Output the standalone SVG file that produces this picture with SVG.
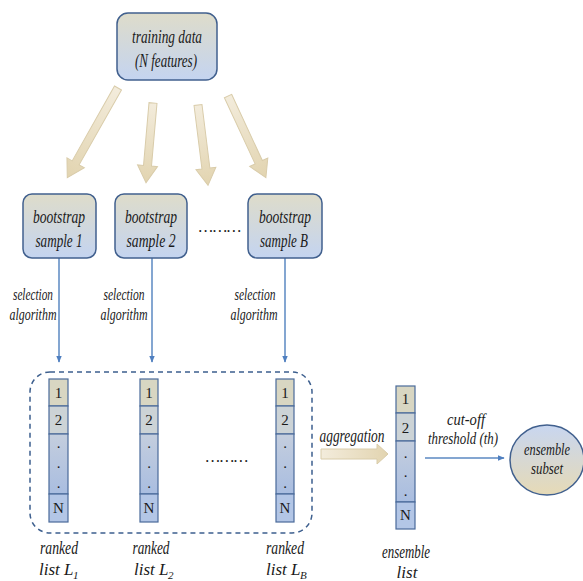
<svg xmlns="http://www.w3.org/2000/svg" width="583" height="581" viewBox="0 0 583 581">
<defs>
<linearGradient id="boxg" x1="0" y1="0" x2="0" y2="1">
<stop offset="0" stop-color="#dedcca"/><stop offset="1" stop-color="#c4d4f0"/>
</linearGradient>
<linearGradient id="ellg" x1="0" y1="0" x2="0" y2="1">
<stop offset="0" stop-color="#c8d6f0"/><stop offset="1" stop-color="#e6dab6"/>
</linearGradient>
<linearGradient id="arrg" x1="0" y1="0" x2="1" y2="0">
<stop offset="0" stop-color="#f3ecdc"/><stop offset="1" stop-color="#e2d4b0"/>
</linearGradient>
<linearGradient id="dotg" x1="0" y1="0" x2="0" y2="1">
<stop offset="0" stop-color="#c4cede"/><stop offset="1" stop-color="#a9bde0"/>
</linearGradient>
<marker id="ah" viewBox="0 0 10 10" refX="9" refY="5" markerWidth="7" markerHeight="7" orient="auto" markerUnits="userSpaceOnUse">
<path d="M0,1 L10,5 L0,9 Z" fill="#4f7fc0"/>
</marker>
<style>
.box{fill:url(#boxg);stroke:#41608e;stroke-width:1.5}
.t{font-family:"Liberation Serif",serif;font-style:italic;font-size:19px;fill:#1a1a1a;text-anchor:middle}
.s{font-size:16px}
.l{font-family:"Liberation Serif",serif;font-style:italic;font-size:17px;fill:#1a1a1a}
.sub{font-family:"Liberation Serif",serif;font-style:italic;font-size:11px;fill:#1a1a1a}
.n{font-family:"Liberation Serif",serif;font-size:15px;fill:#1a1a1a;text-anchor:middle}
.fat{fill:url(#arrg);stroke:#d9ccaa;stroke-width:1}
.thin{stroke:#5b88c2;stroke-width:1.5;fill:none;marker-end:url(#ah)}
.c1{fill:#d8d6c2;stroke:#4a6a9a;stroke-width:1.2}
.c2{fill:#ccd3d6;stroke:#4a6a9a;stroke-width:1.2}
.c3{fill:url(#dotg);stroke:#4a6a9a;stroke-width:1.2}
.c4{fill:#b3c6e6;stroke:#4a6a9a;stroke-width:1.2}
</style>
</defs>

<g id="connectors">
<path class="fat" transform="translate(118,88) rotate(119.5)" d="M0,-4 L86,-4 L86,-10 L103,0 L86,10 L86,4 L0,4 Z"/>
<path class="fat" transform="translate(153,103) rotate(95)" d="M0,-4 L63,-4 L63,-10 L80,0 L63,10 L63,4 L0,4 Z"/>
<path class="fat" transform="translate(198,105) rotate(82.9)" d="M0,-4 L64,-4 L64,-10 L81,0 L64,10 L64,4 L0,4 Z"/>
<path class="fat" transform="translate(228,96) rotate(65.1)" d="M0,-4 L73,-4 L73,-10 L90,0 L73,10 L73,4 L0,4 Z"/>
<line class="thin" x1="59" y1="258" x2="59" y2="362"/>
<line class="thin" x1="152" y1="258" x2="152" y2="362"/>
<line class="thin" x1="285" y1="258" x2="285" y2="362"/>
<path class="fat" d="M321,449 L377,449 L377,444 L388,454 L377,464 L377,459 L321,459 Z"/>
<line class="thin" x1="425" y1="458" x2="504" y2="458"/>
<text class="t s" x="33" y="300" textLength="40" lengthAdjust="spacingAndGlyphs">selection</text>
<text class="t s" x="33" y="320" textLength="47" lengthAdjust="spacingAndGlyphs">algorithm</text>
<text class="t s" x="124" y="300" textLength="41" lengthAdjust="spacingAndGlyphs">selection</text>
<text class="t s" x="124" y="320" textLength="47" lengthAdjust="spacingAndGlyphs">algorithm</text>
<text class="t s" x="255" y="300" textLength="41" lengthAdjust="spacingAndGlyphs">selection</text>
<text class="t s" x="254" y="320" textLength="47" lengthAdjust="spacingAndGlyphs">algorithm</text>
<text class="t" x="352" y="442" textLength="65" lengthAdjust="spacingAndGlyphs">aggregation</text>
<text class="l" x="466" y="425" text-anchor="middle" textLength="38" lengthAdjust="spacingAndGlyphs">cut-off</text>
<text class="l" x="463" y="444" text-anchor="middle" textLength="70" lengthAdjust="spacingAndGlyphs">threshold (th)</text>
</g>

<g id="training">
<rect class="box" x="117" y="13" width="100" height="67" rx="11"/>
<text class="t" x="167" y="43" textLength="70" lengthAdjust="spacingAndGlyphs">training data</text>
<text class="t" x="166" y="67" textLength="62" lengthAdjust="spacingAndGlyphs">(N features)</text>
</g>

<g id="boot1">
<rect class="box" x="23" y="194" width="73" height="64" rx="9"/>
<text class="t" x="59" y="223" textLength="52" lengthAdjust="spacingAndGlyphs">bootstrap</text>
<text class="t" x="59" y="247" textLength="47" lengthAdjust="spacingAndGlyphs">sample 1</text>
</g>
<g id="boot2">
<rect class="box" x="115" y="194" width="72" height="64" rx="9"/>
<text class="t" x="151" y="223" textLength="52" lengthAdjust="spacingAndGlyphs">bootstrap</text>
<text class="t" x="151" y="247" textLength="49" lengthAdjust="spacingAndGlyphs">sample 2</text>
</g>
<text class="t s" x="220" y="232">………</text>
<g id="bootB">
<rect class="box" x="248" y="194" width="74" height="64" rx="9"/>
<text class="t" x="285" y="223" textLength="52" lengthAdjust="spacingAndGlyphs">bootstrap</text>
<text class="t" x="284" y="247" textLength="48" lengthAdjust="spacingAndGlyphs">sample B</text>
</g>

<g id="ensemble-group">
<rect x="30" y="372" width="282" height="161" rx="20" fill="none" stroke="#3d5f8e" stroke-width="1.5" stroke-dasharray="5,4"/>
</g>

<g id="list1">
<rect class="c1" x="49" y="379" width="19" height="27"/>
<rect class="c2" x="49" y="406" width="19" height="28"/>
<rect class="c3" x="49" y="434" width="19" height="60"/>
<rect class="c4" x="49" y="494" width="19" height="28"/>
<text class="n" x="58.5" y="398">1</text><text class="n" x="58.5" y="425">2</text>
<text class="n" x="58.5" y="448">.</text><text class="n" x="58.5" y="468">.</text><text class="n" x="58.5" y="488">.</text>
<text class="n" x="58.5" y="513">N</text>
<text class="t" x="59" y="554" textLength="38" lengthAdjust="spacingAndGlyphs">ranked</text>
<text class="l" x="39" y="575">list L</text><text class="sub" x="73" y="579">1</text>
</g>
<g id="list2">
<rect class="c1" x="140" y="379" width="18" height="27"/>
<rect class="c2" x="140" y="406" width="18" height="28"/>
<rect class="c3" x="140" y="434" width="18" height="60"/>
<rect class="c4" x="140" y="494" width="18" height="28"/>
<text class="n" x="149" y="398">1</text><text class="n" x="149" y="425">2</text>
<text class="n" x="149" y="448">.</text><text class="n" x="149" y="468">.</text><text class="n" x="149" y="488">.</text>
<text class="n" x="149" y="513">N</text>
<text class="t" x="151" y="554" textLength="37" lengthAdjust="spacingAndGlyphs">ranked</text>
<text class="l" x="134" y="575">list L</text><text class="sub" x="168" y="579">2</text>
</g>
<text class="t s" x="227" y="462">………</text>
<g id="listB">
<rect class="c1" x="276" y="379" width="18" height="27"/>
<rect class="c2" x="276" y="406" width="18" height="28"/>
<rect class="c3" x="276" y="434" width="18" height="60"/>
<rect class="c4" x="276" y="494" width="18" height="28"/>
<text class="n" x="285" y="398">1</text><text class="n" x="285" y="425">2</text>
<text class="n" x="285" y="448">.</text><text class="n" x="285" y="468">.</text><text class="n" x="285" y="488">.</text>
<text class="n" x="285" y="513">N</text>
<text class="t" x="285" y="554" textLength="38" lengthAdjust="spacingAndGlyphs">ranked</text>
<text class="l" x="266" y="575">list L</text><text class="sub" x="300" y="579">B</text>
</g>

<g id="enslist">
<rect class="c1" x="396" y="386" width="19" height="27"/>
<rect class="c2" x="396" y="413" width="19" height="28"/>
<rect class="c3" x="396" y="441" width="19" height="61"/>
<rect class="c4" x="396" y="502" width="19" height="27"/>
<text class="n" x="405.5" y="404">1</text><text class="n" x="405.5" y="433">2</text>
<text class="n" x="405.5" y="458">.</text><text class="n" x="405.5" y="477">.</text><text class="n" x="405.5" y="496">.</text>
<text class="n" x="405.5" y="520">N</text>
<text class="t" x="406" y="558" textLength="48" lengthAdjust="spacingAndGlyphs">ensemble</text>
<text class="l" x="407" y="578" text-anchor="middle">list</text>
</g>

<g id="subset">
<ellipse cx="547" cy="460" rx="37" ry="35" fill="url(#ellg)" stroke="#41608e" stroke-width="1.5"/>
<text class="l" x="547" y="455" text-anchor="middle" font-size="16" textLength="46" lengthAdjust="spacingAndGlyphs">ensemble</text>
<text class="l" x="547" y="474" text-anchor="middle" font-size="16" textLength="32" lengthAdjust="spacingAndGlyphs">subset</text>
</g>
</svg>
